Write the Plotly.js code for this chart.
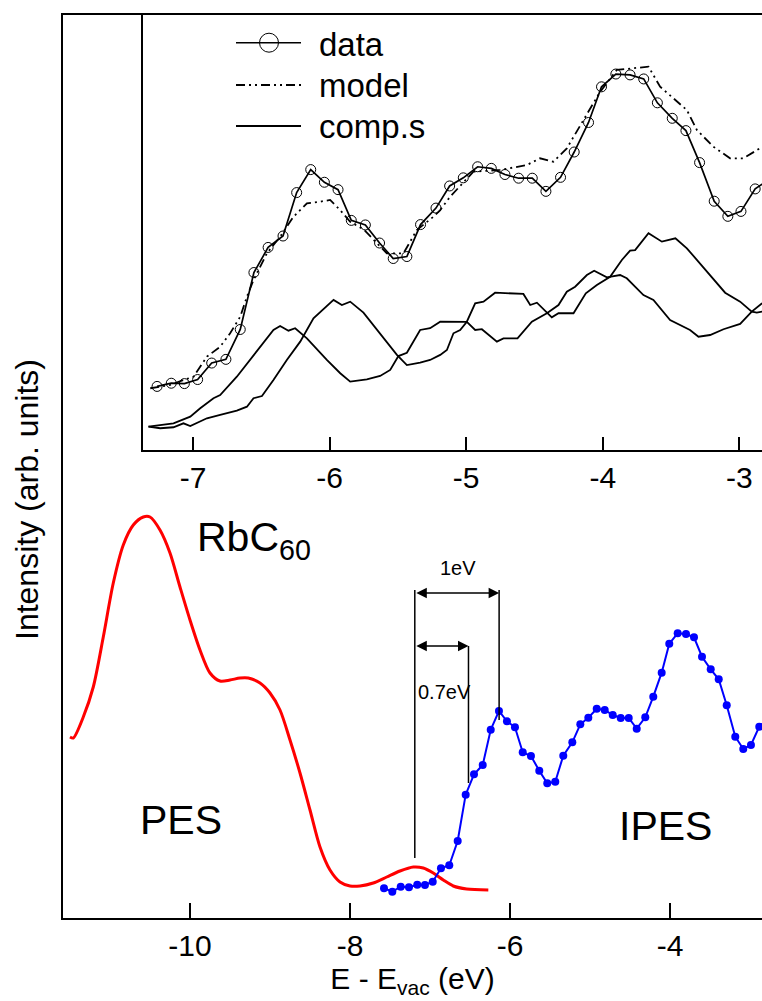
<!DOCTYPE html>
<html>
<head>
<meta charset="utf-8">
<script src="https://cdn.plot.ly/plotly-3.0.1.min.js"></script>
<style>
html,body{margin:0;padding:0;background:#fff;overflow:hidden;}
#chart{width:762px;height:1001px;}
</style>
</head>
<body>
<div id="chart"></div>
<script>
// ---- Main panel: PES (red) ----
const PES_E = [-11.5,-11.459,-11.334,-11.209,-11.084,-10.959,-10.834,-10.709,-10.584,-10.5,-10.375,-10.25,-10.125,-10.0,-9.875,-9.75,-9.625,-9.5,-9.375,-9.271,-9.125,-9.0,-8.875,-8.75,-8.625,-8.5,-8.375,-8.25,-8.125,-8.0,-7.875,-7.709,-7.541,-7.375,-7.209,-7.084,-6.959,-6.834,-6.709,-6.541,-6.271];
const PES_I = [181,180,201,231,281,335,373,393,401,401,388,365,331,298,268,245,237,238,240,240,235,225,208,178,145,108,71,48,36,32,32,35,41,47,51,50,45,38,32,29,28];

// ---- Main panel: IPES (blue) = inset "data" ----
const IPES_E = [-7.575,-7.471,-7.366,-7.263,-7.159,-7.063,-6.966,-6.863,-6.759,-6.654,-6.554,-6.450,-6.341,-6.241,-6.138,-6.038,-5.938,-5.841,-5.738,-5.634,-5.534,-5.434,-5.334,-5.221,-5.121,-5.021,-4.916,-4.816,-4.716,-4.616,-4.516,-4.416,-4.309,-4.209,-4.104,-4.009,-3.904,-3.800,-3.700,-3.600,-3.491,-3.391,-3.291,-3.184,-3.084,-2.988,-2.884,-2.79];
const IPES_I = [29.7,26.3,31.3,30.7,33.3,33.0,36.3,49.7,52.7,77.0,123.3,143.7,153.0,188.3,207.0,196.7,190.7,165.7,162.0,147.3,134.7,136.3,162.3,175.7,193.7,200.3,209.3,208.0,203.0,200.0,200.0,189.3,200.7,221.3,245.3,274.3,284.7,284.0,280.7,261.3,248.7,238.7,212.7,181.3,169.0,173.0,191.3,198.5];
// the inset shows the same spectrum from its 4th point on
const INSET_FIRST_POINT = 3;

// ---- Inset: model (dash-dot-dot) ----
const MODEL_E = [-7.313,-7.167,-7.070,-6.996,-6.898,-6.801,-6.728,-6.654,-6.605,-6.557,-6.459,-6.362,-6.264,-6.166,-6.069,-5.996,-5.923,-5.849,-5.752,-5.679,-5.581,-5.459,-5.361,-5.239,-5.190,-5.117,-4.947,-4.751,-4.556,-4.459,-4.361,-4.263,-4.141,-4.019,-3.897,-3.800,-3.665,-3.580,-3.482,-3.384,-3.311,-3.190,-3.068,-2.970,-2.849];
const MODEL_I = [29.2,31.9,35.9,38.6,54.9,63.0,73.9,87.4,103.7,117.2,138.9,152.4,168.7,179.6,180.9,182.3,174.1,164.6,158.5,149.8,138.9,138.9,157.9,168.7,174.1,185.0,205.3,206.7,210.7,216.2,213.4,224.3,247.3,270.3,288.0,289.3,290.7,274.4,265.0,255.4,239.2,225.6,216.2,216.2,224.3];

// ---- Inset: components ----
const COMP1_E = [-7.326,-7.240,-7.143,-7.020,-6.947,-6.850,-6.801,-6.679,-6.581,-6.484,-6.411,-6.362,-6.301,-6.252,-6.166,-6.020,-5.922,-5.849,-5.727,-5.630,-5.556,-5.496,-5.434,-5.337,-5.264,-5.190,-4.995,-4.934,-4.885,-4.775,-4.727,-4.624,-4.519,-4.409,-4.324,-4.263,-4.202,-4.116,-4.063,-3.970,-3.873,-3.824,-3.702,-3.629,-3.507,-3.361,-3.299,-3.214,-3.116,-2.994,-2.909,-2.833];
const COMP1_I = [-2.0,-0.7,0.7,6.1,12.9,21.1,23.7,38.6,52.2,65.8,76.6,79.8,76.0,78.0,69.8,52.2,41.4,34.6,36.5,39.2,44.1,55.4,58.1,76.6,78.0,83.3,83.1,76.6,77.2,67.1,69.8,69.8,83.3,90.2,96.9,107.7,111.8,121.3,124.8,119.4,121.3,118.6,105.0,101.0,84.7,76.6,71.1,72.5,77.2,81.5,91.5,98.3];
const COMP2_E = [-7.326,-7.240,-7.143,-7.070,-7.020,-6.898,-6.801,-6.679,-6.605,-6.557,-6.495,-6.411,-6.313,-6.215,-6.118,-6.045,-5.971,-5.910,-5.849,-5.752,-5.630,-5.507,-5.434,-5.337,-5.264,-5.190,-5.141,-5.093,-5.044,-4.995,-4.934,-4.873,-4.788,-4.702,-4.581,-4.531,-4.482,-4.373,-4.324,-4.214,-4.124,-4.043,-3.946,-3.860,-3.800,-3.763,-3.665,-3.567,-3.468,-3.384,-3.299,-3.214,-3.104,-2.994,-2.909,-2.872,-2.833];
const COMP2_I = [-2.0,-3.3,-2.5,0.7,-1.5,4.8,7.5,11.0,14.2,21.1,22.9,35.9,52.2,67.1,86.1,93.4,101.0,96.9,99.6,90.7,73.9,56.3,48.1,50.0,52.2,56.3,60.3,73.9,76.6,83.3,98.3,99.6,106.9,106.4,105.9,96.9,98.8,86.9,90.2,90.2,106.4,113.2,119.9,133.5,141.1,141.6,155.2,148.4,151.1,143.0,132.1,121.3,106.9,99.6,91.5,90.7,91.5];

// ---- Tick labels ----
const MAIN_TICKS = [-10,-8,-6,-4];
const MAIN_TICK_TEXT = ['-10','-8','-6','-4'];
const INSET_TICKS = [-7,-6,-5,-4,-3];
const INSET_TICK_TEXT = ['-7','-6','-5','-4','-3'];

// ---- Gap markers (eV) ----
const GAP_LEFT_E = -7.19;
const GAP_1EV_E = -6.136;
const GAP_07EV_E = -6.519;

const FONT = 'Liberation Sans, Arial, Helvetica, sans-serif';
const BLACK = '#000';

// pixel -> paper helpers for layout decorations (plot area 63..762 x 15..918)
const PX = x => (x - 63) / 699;
const PY = y => (918 - y) / 903;

const insetE = IPES_E.slice(INSET_FIRST_POINT);
const insetI = IPES_I.slice(INSET_FIRST_POINT);

const traces = [
  {x: PES_E, y: PES_I, mode: 'lines', line: {color: '#ff0000', width: 3, shape: 'spline', smoothing: 0.8}, xaxis: 'x', yaxis: 'y', hoverinfo: 'skip'},
  {x: IPES_E, y: IPES_I, mode: 'lines+markers', line: {color: '#0000ff', width: 2},
   marker: {color: '#0000ff', size: 8}, xaxis: 'x', yaxis: 'y', hoverinfo: 'skip'},
  {x: COMP1_E, y: COMP1_I, mode: 'lines', line: {color: BLACK, width: 1.8}, xaxis: 'x2', yaxis: 'y2', hoverinfo: 'skip'},
  {x: COMP2_E, y: COMP2_I, mode: 'lines', line: {color: BLACK, width: 1.8}, xaxis: 'x2', yaxis: 'y2', hoverinfo: 'skip'},
  {x: MODEL_E, y: MODEL_I, mode: 'lines', line: {color: BLACK, width: 1.8, dash: '9px,4px,2px,4px,2px,4px'}, xaxis: 'x2', yaxis: 'y2', hoverinfo: 'skip'},
  {x: insetE, y: insetI, mode: 'lines+markers', line: {color: BLACK, width: 1.7},
   marker: {symbol: 'circle-open', size: 10, color: BLACK, line: {width: 1, color: BLACK}}, xaxis: 'x2', yaxis: 'y2', hoverinfo: 'skip'}
];

const axisCommon = {
  showgrid: false, zeroline: false, showline: true, linecolor: BLACK, linewidth: 2,
  tickcolor: BLACK, tickwidth: 2, ticks: 'inside'
};

const layout = {
  width: 762, height: 1001,
  margin: {l: 63, r: 0, t: 15, b: 83},
  paper_bgcolor: '#fff', plot_bgcolor: '#fff',
  showlegend: false,
  font: {family: FONT, color: BLACK},
  xaxis: Object.assign({}, axisCommon, {
    range: [-11.5875, -2.85], tickvals: MAIN_TICKS, ticktext: MAIN_TICK_TEXT,
    ticklen: 15, mirror: true, tickfont: {size: 30, family: FONT},
    title: {text: 'E - E<sub>vac</sub> (eV)', font: {size: 30, family: FONT}, standoff: 6}
  }),
  yaxis: Object.assign({}, axisCommon, {
    range: [0, 903], ticks: '', showticklabels: false, mirror: false
  }),
  xaxis2: Object.assign({}, axisCommon, {
    domain: [PX(143), 1], anchor: 'y2', range: [-7.366, -2.834],
    tickvals: INSET_TICKS, ticktext: INSET_TICK_TEXT, ticklen: 13, mirror: true,
    tickfont: {size: 30, family: FONT}
  }),
  yaxis2: Object.assign({}, axisCommon, {
    domain: [PY(450), 1], anchor: 'x2', range: [-21, 332.7], ticks: '', showticklabels: false, mirror: false
  }),
  shapes: [
    // gap marker vertical lines (main axes)
    {type: 'line', xref: 'x', yref: 'y', x0: GAP_LEFT_E, x1: GAP_LEFT_E, y0: 60, y1: 328, line: {color: BLACK, width: 1.5}},
    {type: 'line', xref: 'x', yref: 'y', x0: GAP_1EV_E, x1: GAP_1EV_E, y0: 198, y1: 328, line: {color: BLACK, width: 1.5}},
    {type: 'line', xref: 'x', yref: 'y', x0: GAP_07EV_E, x1: GAP_07EV_E, y0: 135, y1: 272, line: {color: BLACK, width: 1.5}},
    // legend samples (inset)
    {type: 'line', xref: 'paper', yref: 'paper', x0: PX(236), x1: PX(301), y0: PY(42.7), y1: PY(42.7), line: {color: BLACK, width: 1.5}},
    {type: 'circle', xref: 'paper', yref: 'paper', x0: PX(259.5), x1: PX(278.5), y0: PY(52.2), y1: PY(33.2), line: {color: BLACK, width: 1}},
    {type: 'line', xref: 'paper', yref: 'paper', x0: PX(236), x1: PX(301), y0: PY(85), y1: PY(85), line: {color: BLACK, width: 1.8, dash: '9px,4px,2px,4px,2px,4px'}},
    {type: 'line', xref: 'paper', yref: 'paper', x0: PX(236), x1: PX(301), y0: PY(126), y1: PY(126), line: {color: BLACK, width: 1.8}}
  ],
  annotations: [
    // double-headed arrows marking the gaps
    {xref: 'x', yref: 'y', axref: 'x', ayref: 'y', x: GAP_1EV_E, y: 325, ax: GAP_LEFT_E, ay: 325, text: '', showarrow: true,
     arrowside: 'end+start', arrowhead: 2, startarrowhead: 2, arrowsize: 1.4, startarrowsize: 1.4, arrowwidth: 1.5, arrowcolor: BLACK},
    {xref: 'x', yref: 'y', axref: 'x', ayref: 'y', x: GAP_07EV_E, y: 272, ax: GAP_LEFT_E, ay: 272, text: '', showarrow: true,
     arrowside: 'end+start', arrowhead: 2, startarrowhead: 2, arrowsize: 1.4, startarrowsize: 1.4, arrowwidth: 1.5, arrowcolor: BLACK},
    {xref: 'x', yref: 'y', x: -6.65, y: 350, text: '1eV', showarrow: false, font: {size: 20, family: FONT}},
    {xref: 'x', yref: 'y', x: -6.82, y: 226, text: '0.7eV', showarrow: false, font: {size: 20, family: FONT}},
    {xref: 'x', yref: 'y', x: -9.94, y: 378, xanchor: 'left', yanchor: 'middle', text: 'RbC<sub>60</sub>', showarrow: false, font: {size: 41, family: FONT}},
    {xref: 'x', yref: 'y', x: -10.11, y: 98, text: 'PES', showarrow: false, font: {size: 41, family: FONT}},
    {xref: 'x', yref: 'y', x: -4.06, y: 92, text: 'IPES', showarrow: false, font: {size: 41, family: FONT}},
    // y-axis title
    {xref: 'paper', yref: 'paper', x: PX(27), y: PY(500), xanchor: 'center', yanchor: 'middle', text: 'Intensity (arb. units)', textangle: -90, showarrow: false, font: {size: 32, family: FONT}},
    // legend labels
    {xref: 'paper', yref: 'paper', x: PX(317), y: PY(44), xanchor: 'left', yanchor: 'middle', text: 'data', showarrow: false, font: {size: 33, family: FONT}},
    {xref: 'paper', yref: 'paper', x: PX(317), y: PY(85), xanchor: 'left', yanchor: 'middle', text: 'model', showarrow: false, font: {size: 33, family: FONT}},
    {xref: 'paper', yref: 'paper', x: PX(317), y: PY(126), xanchor: 'left', yanchor: 'middle', text: 'comp.s', showarrow: false, font: {size: 33, family: FONT}}
  ]
};

Plotly.newPlot('chart', traces, layout, {displayModeBar: false, staticPlot: true});
</script>
</body>
</html>
